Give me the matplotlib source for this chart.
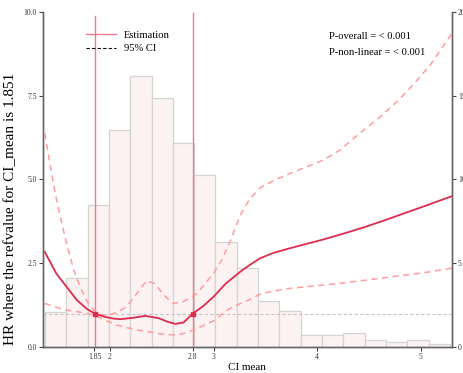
import numpy as np
import matplotlib
matplotlib.use("Agg")
import matplotlib.pyplot as plt
from matplotlib.lines import Line2D

plt.rcParams['font.family'] = ['Liberation Serif', 'DejaVu Serif']

# Histogram of CI mean (percent, right axis)
bin_lo, bin_hi, n_bins = 1.372, 5.283, 19
bar_pct = [2.1, 4.1, 8.45, 12.95, 16.2, 14.85, 12.2, 10.25, 6.25, 4.7,
           2.76, 2.14, 0.72, 0.72, 0.84, 0.42, 0.28, 0.42, 0.17]

# Estimated HR curve
est_x = [1.37, 1.42, 1.48, 1.58, 1.68, 1.78, 1.851, 1.95, 2.03, 2.10, 2.22,
         2.34, 2.47, 2.56, 2.63, 2.71, 2.80, 2.90, 3.00, 3.12, 3.26, 3.35,
         3.45, 3.58, 3.74, 3.90, 4.06, 4.25, 4.45, 4.65, 4.85, 5.05, 5.30]
est_y = [2.84, 2.55, 2.2, 1.8, 1.4, 1.13, 1.0, 0.9, 0.85, 0.83, 0.87,
         0.93, 0.86, 0.75, 0.69, 0.73, 1.0, 1.22, 1.5, 1.9, 2.25, 2.45,
         2.65, 2.81, 2.95, 3.08, 3.21, 3.38, 3.57, 3.78, 4.0, 4.22, 4.5]

# 95% CI
ci_x = [1.37, 1.42, 1.47, 1.52, 1.58, 1.65, 1.71, 1.78, 1.84, 1.90, 1.97,
        2.06, 2.16, 2.26, 2.35, 2.43, 2.52, 2.61, 2.71, 2.84, 3.00, 3.08,
        3.16, 3.26, 3.35, 3.45, 3.58, 3.74, 3.90, 4.06, 4.22, 4.40, 4.61,
        4.78, 4.94, 5.10, 5.30]
ci_upper = [6.38, 5.48, 4.6, 3.89, 3.1, 2.3, 1.8, 1.35, 1.1, 0.97, 0.95,
            1.02, 1.2, 1.6, 1.97, 1.9, 1.55, 1.3, 1.35, 1.6, 2.2, 2.6,
            3.15, 3.95, 4.42, 4.75, 4.97, 5.18, 5.38, 5.58, 5.88, 6.35, 6.87,
            7.35, 7.87, 8.45, 9.35]
ci_lower = [1.3, 1.25, 1.2, 1.15, 1.1, 1.07, 1.04, 1.0, 0.95, 0.88, 0.78,
            0.66, 0.58, 0.51, 0.47, 0.42, 0.38, 0.36, 0.4, 0.55, 0.78, 0.98,
            1.15, 1.3, 1.42, 1.58, 1.67, 1.75, 1.8, 1.85, 1.9, 1.97, 2.05,
            2.12, 2.18, 2.25, 2.35]

knots = [1.851, 2.8]
knot_top = [9.87, 9.97]

red = '#dc2c4e'
pink = '#f27a8c'
ci_col = '#ff9c9c'

fig = plt.figure(figsize=(4.63, 3.73), dpi=100)
ax = fig.add_axes([43 / 463, 1 - 347 / 373, 408.7 / 463, 335 / 373])
ax2 = ax.twinx()

edges = np.linspace(bin_lo, bin_hi, n_bins + 1)
ax2.bar(edges[:-1], bar_pct, width=np.diff(edges), align='edge',
        color='#fdf2f2', edgecolor='#d4d4d4', linewidth=0.9)
ax2.set_ylim(0, 20)
ax2.set_yticks([0, 5, 10, 15, 20])

ax.set_zorder(ax2.get_zorder() + 1)
ax.patch.set_visible(False)

ax.axhline(1, color='#c4c4c4', linestyle=(0, (3, 2)), linewidth=0.8)
for k, top in zip(knots, knot_top):
    ax.plot([k, k], [0, top], color=pink, linewidth=1.0)
ax.plot(ci_x, ci_upper, color=ci_col, linestyle=(0, (4, 3)), linewidth=1.1)
ax.plot(ci_x, ci_lower, color=ci_col, linestyle=(0, (4, 3)), linewidth=1.1)
ax.plot(est_x, est_y, color=red, linewidth=1.3)
ax.plot(knots, [1.0, 1.0], 's', color=red, markersize=3.5)

ax.set_xlim(1.353, 5.30)
ax.set_ylim(0, 10)
ax.set_xticks([1.85, 2, 2.8, 3, 4, 5])
ax.set_xticklabels(['1.85', '2', '2.8', '3', '4', '5'])
ax.set_yticks([0, 2.5, 5, 7.5, 10])
ax.set_yticklabels(['0.0', '2.5', '5.0', '7.5', '10.0'])

for a in (ax, ax2):
    a.spines['top'].set_visible(False)
    a.tick_params(labelsize=5.5, length=3, width=0.8, pad=1.5,
                  colors='#444444', labelcolor='#333333')
    for s in ('left', 'right', 'bottom'):
        a.spines[s].set_color('#666666')
        a.spines[s].set_linewidth(1.0)

ax.set_xlabel('CI mean', fontsize=8, labelpad=1)
ax.set_ylabel('HR where the refvalue for CI_mean is 1.851', fontsize=11)
ax.yaxis.set_label_coords(-0.064, 0.412)

handles = [Line2D([], [], color=pink, linewidth=1.0),
           Line2D([], [], color='black', linestyle=(0, (3, 2)), linewidth=0.8)]
ax.legend(handles, ['Estimation', '95% CI'], loc='upper left',
          bbox_to_anchor=(0.104, 0.945), frameon=False, fontsize=7.6,
          borderpad=0, borderaxespad=0, handlelength=2.9,
          handletextpad=0.75, labelspacing=0.4)

ax.text(0.70, 0.928, 'P-overall = < 0.001', transform=ax.transAxes,
        fontsize=7.6, va='center', ha='left')
ax.text(0.70, 0.878, 'P-non-linear = < 0.001', transform=ax.transAxes,
        fontsize=7.6, va='center', ha='left')

fig.savefig('out.png', dpi=100)
